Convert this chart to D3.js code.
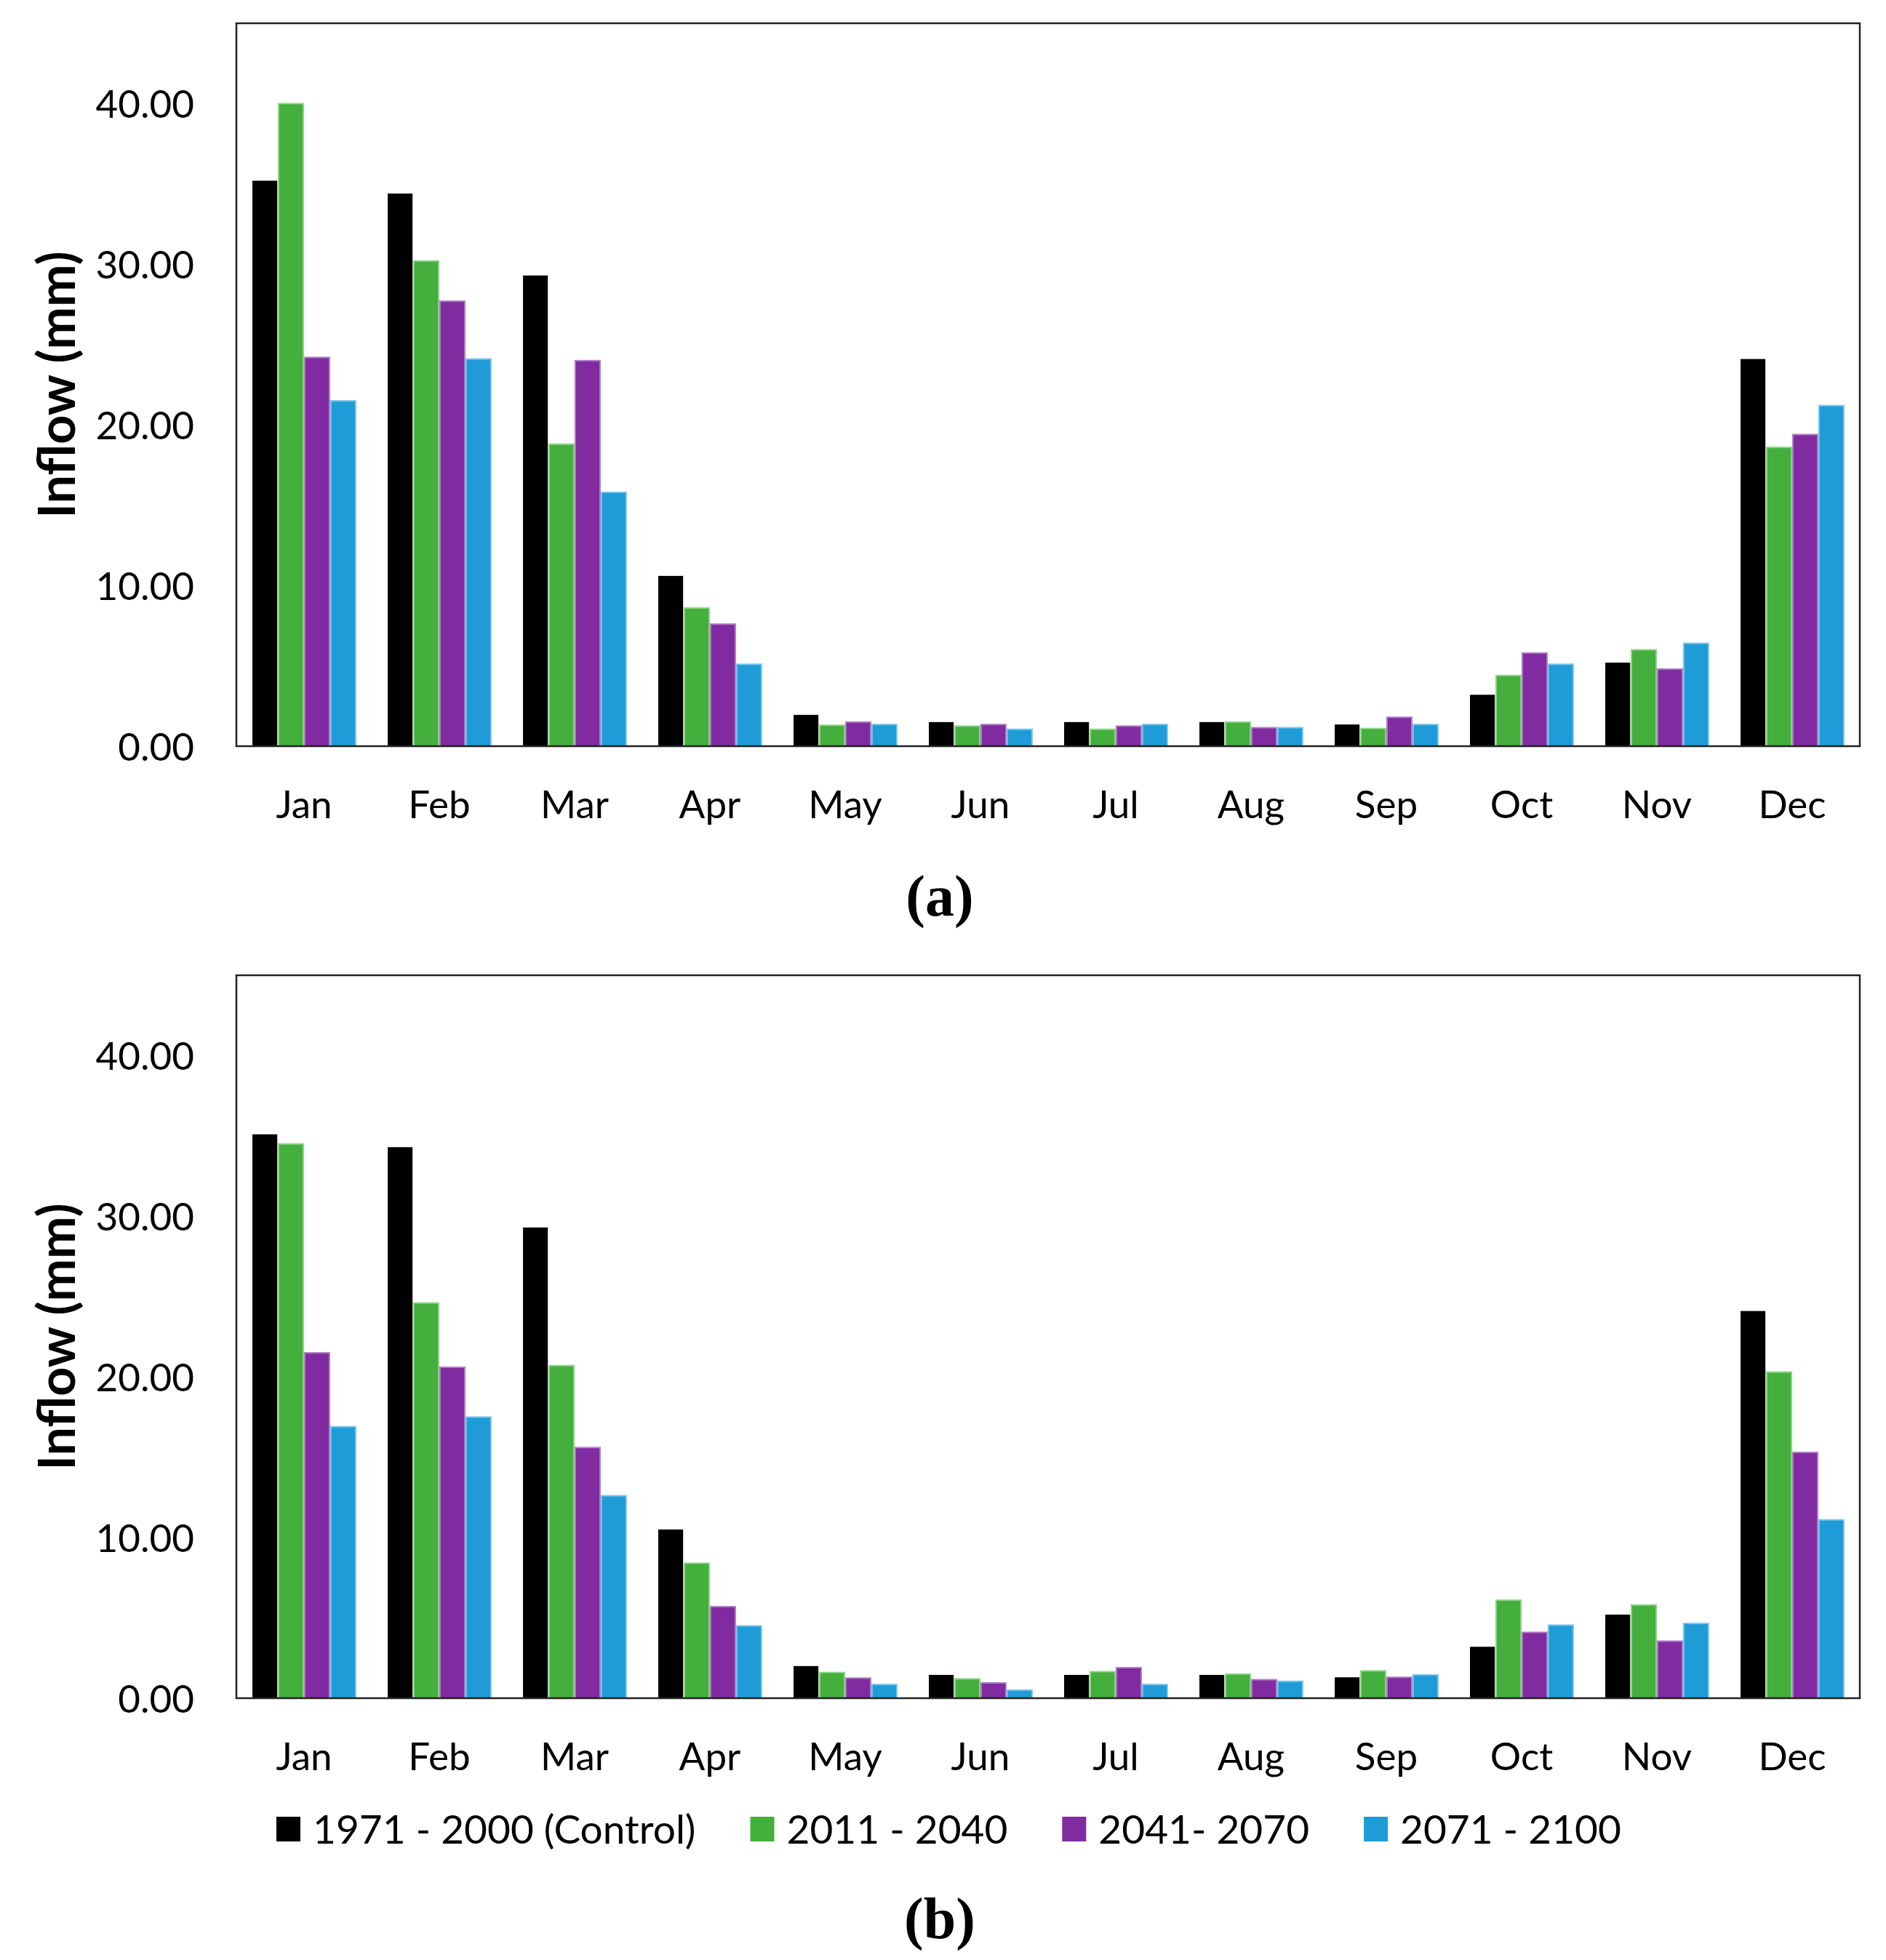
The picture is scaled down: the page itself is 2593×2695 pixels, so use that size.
<!DOCTYPE html>
<html>
<head>
<meta charset="utf-8">
<script src="https://cdn.jsdelivr.net/npm/d3@7"></script>
<style>
  body { margin: 0; background: #fff; }
  svg { display: block; }
</style>
</head>
<body>
<div id="chart"></div>
<script>
// months along x
var months = ["Jan", "Feb", "Mar", "Apr", "May", "Jun", "Jul", "Aug", "Sep", "Oct", "Nov", "Dec"];
var seriesNames = ["1971 - 2000 (Control)", "2011 - 2040", "2041- 2070", "2071 - 2100"];
var seriesColors = ["#000000", "#44af3d", "#812ba1", "#1f9cd8"];
var seriesEdges = [null, "#8fd68a", "#b27fc6", "#7cc6ea"];
var yTicks = [0, 10, 20, 30, 40];

// panel (a) values, one array per series
var a_control = [35.2, 34.4, 29.3, 10.6, 1.95, 1.5, 1.5, 1.5, 1.35, 3.2, 5.2, 24.1];
var a_2011 = [40.0, 30.2, 18.8, 8.6, 1.3, 1.25, 1.05, 1.5, 1.1, 4.4, 6.0, 18.6];
var a_2041 = [24.2, 27.7, 24.0, 7.6, 1.5, 1.35, 1.25, 1.15, 1.8, 5.8, 4.8, 19.4];
var a_2071 = [21.5, 24.1, 15.8, 5.1, 1.35, 1.05, 1.35, 1.15, 1.35, 5.1, 6.4, 21.2];

// panel (b) values
var b_control = [35.1, 34.3, 29.3, 10.5, 2.0, 1.45, 1.45, 1.45, 1.3, 3.2, 5.2, 24.1];
var b_2011 = [34.5, 24.6, 20.7, 8.4, 1.6, 1.2, 1.65, 1.5, 1.7, 6.1, 5.8, 20.3];
var b_2041 = [21.5, 20.6, 15.6, 5.7, 1.25, 0.95, 1.9, 1.15, 1.3, 4.1, 3.55, 15.3];
var b_2071 = [16.9, 17.5, 12.6, 4.5, 0.85, 0.5, 0.85, 1.05, 1.45, 4.55, 4.65, 11.1];

var w = 2593, h = 2695;
var left = 325, right = 2557;
var font = "Lato, 'Open Sans', sans-serif";

var svg = d3.select("#chart")
  .append("svg")
  .attr("width", w)
  .attr("height", h)

svg.append("rect").attr("width", w).attr("height", h).attr("fill", "#fff")

var x = d3.scaleBand()
  .domain(months)
  .range([left, right])
  .paddingInner(0.237)
  .paddingOuter(0.1185)

var xs = d3.scaleBand()
  .domain(d3.range(seriesNames.length))
  .range([0, x.bandwidth()])
  .paddingInner(0.05)

function drawPanel(series, top, bottom, label, labelY) {
  var y = d3.scaleLinear().domain([0, 45]).range([bottom, top]);
  var g = svg.append("g");

  // bars
  series.forEach(function(vals, si) {
    g.append("g")
      .selectAll("rect")
      .data(vals)
      .enter()
      .append("rect")
      .attr("x", function(d, i) { return x(months[i]) + xs(si); })
      .attr("y", function(d) { return y(d); })
      .attr("width", xs.bandwidth())
      .attr("height", function(d) { return bottom - y(d); })
      .attr("fill", seriesColors[si])
      .attr("stroke", seriesEdges[si] || "none")
      .attr("stroke-width", 2)
  });

  // plot area frame
  g.append("rect")
    .attr("x", left)
    .attr("y", top)
    .attr("width", right - left)
    .attr("height", bottom - top)
    .attr("fill", "none")
    .attr("stroke", "#222")
    .attr("stroke-width", 2.5)

  // y axis labels
  var yAxis = d3.axisLeft(y)
    .tickValues(yTicks)
    .tickSize(0)
    .tickPadding(58)
    .tickFormat(d3.format(".2f"))
  var ya = g.append("g").attr("transform", "translate(" + left + ",0)").call(yAxis)
  ya.select(".domain").remove()
  ya.selectAll("text")
    .attr("font-family", font)
    .attr("font-size", 53)
    .attr("fill", "#000")
    .attr("dy", "0.36em")

  // x axis labels
  var xAxis = d3.axisBottom(x).tickSize(0).tickPadding(0)
  var xa = g.append("g").attr("transform", "translate(0," + bottom + ")").call(xAxis)
  xa.select(".domain").remove()
  xa.selectAll("text")
    .attr("font-family", font)
    .attr("font-size", 53)
    .attr("fill", "#000")
    .attr("y", 80)
    .attr("dy", "0.36em")

  // y title
  g.append("text")
    .attr("transform", "translate(78," + (top + bottom) / 2 + ") rotate(-90)")
    .attr("text-anchor", "middle")
    .attr("dy", "0.36em")
    .attr("font-family", font)
    .attr("font-weight", "bold")
    .attr("font-size", 70)
    .text("Inflow (mm)")

  // panel label
  g.append("text")
    .attr("x", 1292)
    .attr("y", labelY)
    .attr("text-anchor", "middle")
    .attr("font-family", "'Liberation Serif', 'DejaVu Serif', serif")
    .attr("font-weight", "bold")
    .attr("font-size", 80)
    .text(label)
}

drawPanel([a_control, a_2011, a_2041, a_2071], 32, 1026, "(a)", 1259)
drawPanel([b_control, b_2011, b_2041, b_2071], 1341, 2335, "(b)", 2665)

// legend
var legend = svg.append("g").attr("transform", "translate(380,2515)")
var lx = 0
seriesNames.forEach(function(name, i) {
  legend.append("rect")
    .attr("x", lx)
    .attr("y", -17)
    .attr("width", 33)
    .attr("height", 34)
    .attr("fill", seriesColors[i])
  var t = legend.append("text")
    .attr("x", lx + 50)
    .attr("dy", "0.36em")
    .attr("font-family", font)
    .attr("font-size", 55)
    .text(name)
  lx += 50 + t.node().getComputedTextLength() + 75
})
</script>
</body>
</html>
